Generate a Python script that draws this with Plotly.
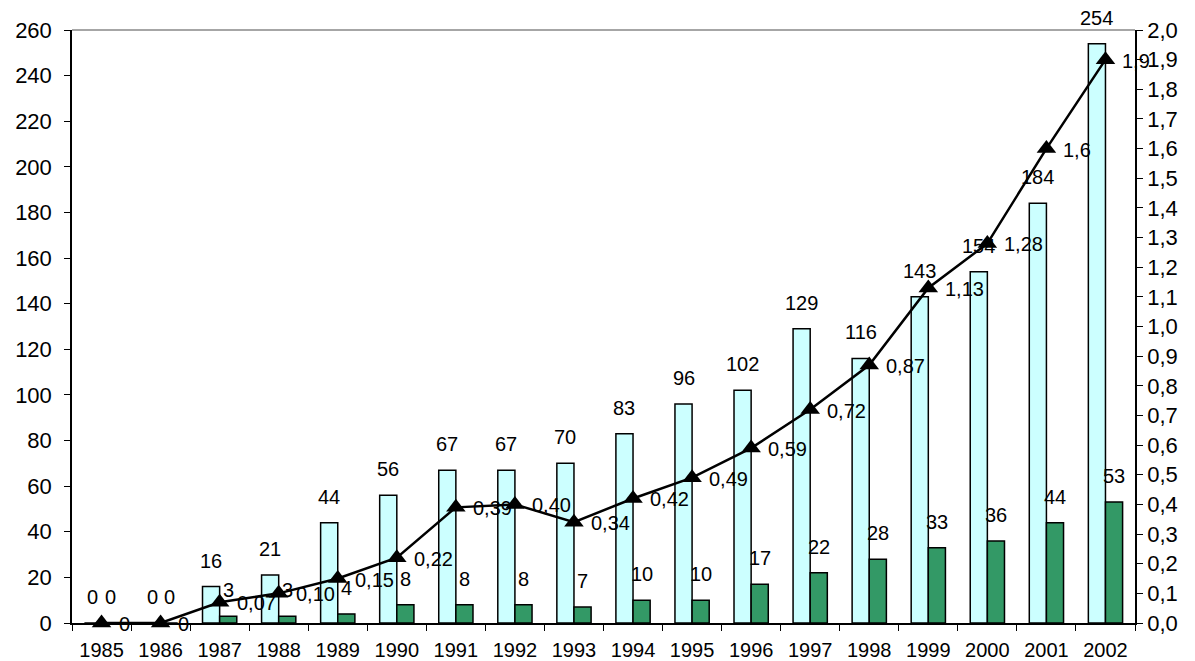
import plotly.graph_objects as go

years = [str(y) for y in range(1985, 2003)]
series_a = [0, 0, 16, 21, 44, 56, 67, 67, 70, 83, 96, 102, 129, 116, 143, 154, 184, 254]
series_b = [0, 0, 3, 3, 4, 8, 8, 8, 7, 10, 10, 17, 22, 28, 33, 36, 44, 53]
ratio = [0, 0, 0.07, 0.10, 0.15, 0.22, 0.39, 0.40, 0.34, 0.42, 0.49, 0.59, 0.72, 0.87, 1.13, 1.28, 1.6, 1.9]
ratio_labels = ["0", "0", "0,07", "0,10", "0,15", "0,22", "0,39", "0,40", "0,34", "0,42",
                "0,49", "0,59", "0,72", "0,87", "1,13", "1,28", "1,6", "1,9"]
left_ticks = list(range(0, 261, 20))
right_ticks = [i / 10 for i in range(0, 21)]
right_tick_text = [f"{v:.1f}".replace(".", ",") for v in right_ticks]

FONT = "Liberation Sans, Arial, sans-serif"
LABEL_SIZE = 20
W, H = 1195, 661
ML, MR, MT, MB = 72, 60, 30, 38
BARGAP = 0.42

fig = go.Figure()
fig.add_trace(go.Bar(
    x=years, y=series_a,
    marker=dict(color="#CCFFFF", line=dict(color="black", width=1.5)),
))
fig.add_trace(go.Bar(
    x=years, y=series_b,
    marker=dict(color="#339966", line=dict(color="black", width=1.5)),
))
fig.add_trace(go.Scatter(
    x=years, y=ratio, yaxis="y2", mode="lines+markers",
    line=dict(color="black", width=2.5),
    marker=dict(symbol="triangle-up", size=17, color="black"),
    cliponaxis=False,
))

# bar value labels, placed above each bar (offset by half a bar width within the group)
cat_px = (W - ML - MR) / len(years)
half_bar = cat_px * (1 - BARGAP) / 4
annotations = []
for i, (a, b) in enumerate(zip(series_a, series_b)):
    for val, shift in ((a, -half_bar), (b, half_bar)):
        annotations.append(dict(
            x=i, y=val, xref="x", yref="y", text=str(val), showarrow=False,
            xshift=shift, yshift=13, yanchor="bottom", xanchor="center",
            font=dict(family=FONT, size=LABEL_SIZE, color="black"),
        ))
# line value labels, to the right of each marker
for i, (v, lab) in enumerate(zip(ratio, ratio_labels)):
    annotations.append(dict(
        x=i, y=v, xref="x", yref="y2", text=lab, showarrow=False,
        xshift=15, yshift=-1, yanchor="middle", xanchor="left",
        font=dict(family=FONT, size=LABEL_SIZE, color="black"),
    ))

fig.update_layout(
    width=W, height=H,
    margin=dict(l=ML, r=MR, t=MT, b=MB),
    paper_bgcolor="white", plot_bgcolor="white",
    showlegend=False,
    barmode="group", bargap=BARGAP, bargroupgap=0,
    font=dict(family=FONT, size=20, color="black"),
    xaxis=dict(
        type="category", range=[-0.5, 17.5], showgrid=False, showline=True,
        linecolor="black", linewidth=1.5, automargin=False,
        ticks="outside", tickson="boundaries", ticklen=6, tickcolor="black",
        tickfont=dict(size=20), ticklabelstandoff=8,
    ),
    yaxis=dict(
        range=[0, 260], tickvals=left_ticks, showgrid=False, showline=True,
        linecolor="black", linewidth=1.5, ticks="outside", ticklen=6, tickcolor="black",
        tickfont=dict(size=22), zeroline=False, ticklabelstandoff=8, automargin=False,
    ),
    yaxis2=dict(
        range=[0, 2.0], tickvals=right_ticks, ticktext=right_tick_text, overlaying="y",
        side="right", showgrid=False, showline=True, linecolor="black", linewidth=1.5,
        ticks="outside", ticklen=6, tickcolor="black", tickfont=dict(size=22), zeroline=False,
        automargin=False,
    ),
    annotations=annotations,
    shapes=[dict(type="line", xref="paper", yref="paper", x0=0, x1=1, y0=1, y1=1,
                 line=dict(color="#888888", width=1.5))],
)

fig.write_html("out.html")
